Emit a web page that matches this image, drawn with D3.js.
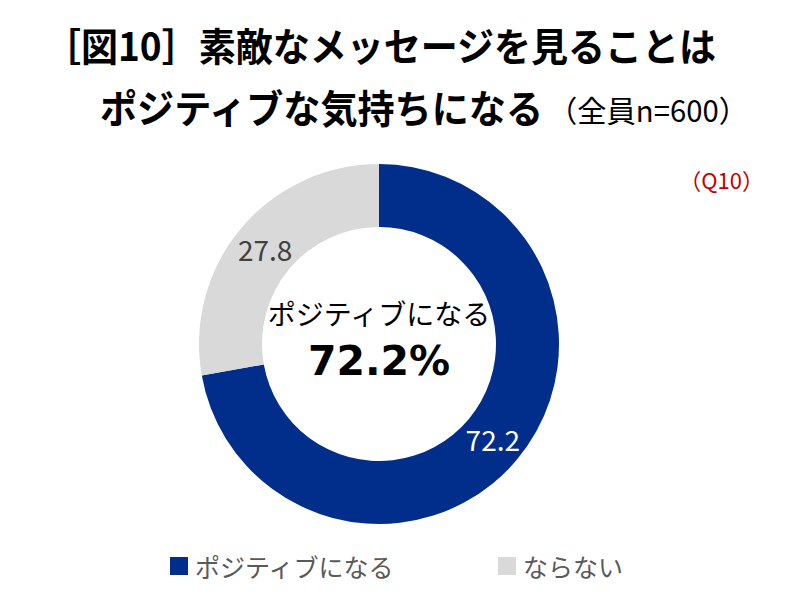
<!DOCTYPE html>
<html>
<head>
<meta charset="utf-8">
<script src="https://cdn.jsdelivr.net/npm/d3@7"></script>
<style>
  body { margin: 0; background: #fff; }
  svg { display: block; }
  text { font-family: "Noto Sans CJK JP", "Noto Sans", sans-serif; }
</style>
</head>
<body>
<svg id="chart" width="791" height="600"></svg>
<script>
// data
var categories = ["ポジティブになる", "ならない"];
var values = [72.2, 27.8];
var colors = ["#002e8a", "#d9d9d9"];
var labelColors = ["#ffffff", "#404040"];

var width = 791, height = 600;
var cx = 379, cy = 344,
    outerR = 180, innerR = 117;

var svg = d3.select("#chart");

// title
svg.append("text")
    .attr("x", 44).attr("y", 61)
    .attr("font-size", 39).attr("font-weight", 700)
    .attr("textLength", 672).attr("lengthAdjust", "spacingAndGlyphs")
    .text("［図10］素敵なメッセージを見ることは");

svg.append("text")
    .attr("x", 100).attr("y", 123)
    .attr("font-size", 39).attr("font-weight", 700)
    .attr("textLength", 443).attr("lengthAdjust", "spacingAndGlyphs")
    .text("ポジティブな気持ちになる");

svg.append("text")
    .attr("x", 548).attr("y", 122)
    .attr("font-size", 30)
    .attr("textLength", 200).attr("lengthAdjust", "spacingAndGlyphs")
    .text("（全員n=600）");

svg.append("text")
    .attr("x", 764).attr("y", 189)
    .attr("text-anchor", "end")
    .attr("font-size", 22).attr("fill", "#c00000")
    .text("（Q10）");

// donut
var pie = d3.pie().sort(null).value(function(d) { return d; });
var arc = d3.arc().innerRadius(innerR).outerRadius(outerR);
var arcs = pie(values);

var g = svg.append("g").attr("transform", "translate(" + cx + "," + cy + ")");

g.selectAll("path.slice")
  .data(arcs)
  .enter().append("path")
    .attr("class", "slice")
    .attr("d", arc)
    .attr("fill", function(d, i) { return colors[i]; });

g.selectAll("text.lbl")
  .data(arcs)
  .enter().append("text")
    .attr("class", "lbl")
    .attr("transform", function(d) { return "translate(" + arc.centroid(d) + ")"; })
    .attr("text-anchor", "middle")
    .attr("dominant-baseline", "central")
    .attr("font-size", 28)
    .attr("fill", function(d, i) { return labelColors[i]; })
    .text(function(d) { return d3.format(".1f")(d.data); });

// center text
g.append("text")
    .attr("y", -31)
    .attr("text-anchor", "middle")
    .attr("dominant-baseline", "central")
    .attr("font-size", 28)
    .attr("fill", "#000")
    .text(categories[0]);

g.append("text")
    .attr("y", 17)
    .attr("text-anchor", "middle")
    .attr("dominant-baseline", "central")
    .attr("font-size", 41).attr("font-weight", 700)
    .style("font-family", "'DejaVu Sans', sans-serif")
    .attr("fill", "#000")
    .text(d3.format(".1f")(values[0]) + "%");

// legend
var legendX = [170, 498];
var legend = svg.selectAll("g.legend")
  .data(categories)
  .enter().append("g")
    .attr("class", "legend")
    .attr("transform", function(d, i) { return "translate(" + legendX[i] + ",557)"; });

legend.append("rect")
    .attr("width", 18).attr("height", 18)
    .attr("fill", function(d, i) { return colors[i]; });

legend.append("text")
    .attr("x", 25).attr("y", 9)
    .attr("dominant-baseline", "central")
    .attr("font-size", 25)
    .attr("fill", "#595959")
    .text(function(d) { return d; });
</script>
</body>
</html>
